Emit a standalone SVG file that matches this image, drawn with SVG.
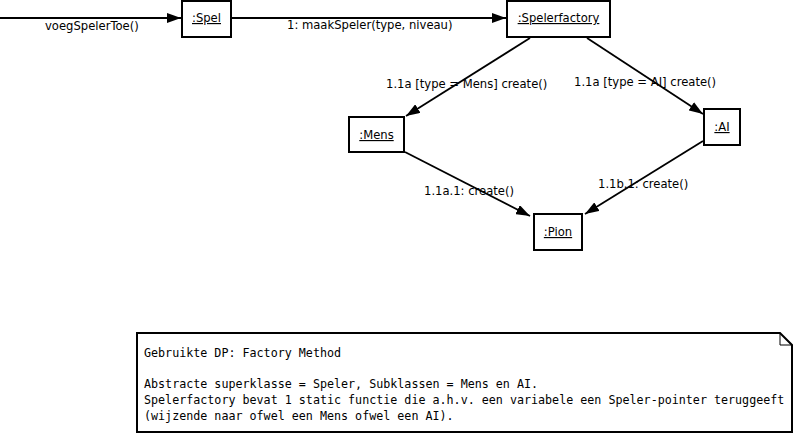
<svg xmlns="http://www.w3.org/2000/svg" width="795" height="435" viewBox="0 0 795 435">
<defs>
<marker id="arr" viewBox="0 0 14 10" refX="14" refY="5" markerWidth="14" markerHeight="10" markerUnits="userSpaceOnUse" orient="auto">
<path d="M0,0 L14,5 L0,10 Z" fill="#000"/>
</marker>
<style>
.box{fill:#fff;stroke:#000;stroke-width:2}
.lbl{font-family:"DejaVu Sans",sans-serif;font-size:11.6px;fill:#000}
.name{font-family:"DejaVu Sans",sans-serif;font-size:11.6px;fill:#000;text-anchor:middle;text-decoration:underline}
.edge{stroke:#000;stroke-width:1.8;fill:none;marker-end:url(#arr)}
.mono{font-family:"DejaVu Sans Mono",monospace;font-size:11.7px;fill:#000}
</style>
</defs>
<rect width="795" height="435" fill="#fff"/>
<g id="connectors">
<line class="edge" x1="0" y1="18" x2="181" y2="18"/>
<line class="edge" x1="232" y1="18" x2="506" y2="18"/>
<line class="edge" x1="530" y1="38" x2="406" y2="116"/>
<line class="edge" x1="587" y1="38" x2="703" y2="114"/>
<line class="edge" x1="405" y1="152" x2="530" y2="216"/>
<line class="edge" x1="703" y1="141" x2="585" y2="214"/>
<text class="lbl" x="45" y="30">voegSpelerToe()</text>
<text class="lbl" x="287" y="29">1: maakSpeler(type, niveau)</text>
<text class="lbl" x="386" y="88">1.1a [type = Mens] create()</text>
<text class="lbl" x="574" y="86">1.1a [type = AI] create()</text>
<text class="lbl" x="424" y="195">1.1a.1: create()</text>
<text class="lbl" x="598" y="188">1.1b.1: create()</text>
</g>
<g id="spel"><rect class="box" x="182" y="1" width="49" height="36"/><text class="name" x="206.5" y="22">:Spel</text></g>
<g id="spelerfactory"><rect class="box" x="507" y="1" width="103" height="36"/><text class="name" x="558.5" y="22">:Spelerfactory</text></g>
<g id="mens"><rect class="box" x="349" y="117" width="55" height="35"/><text class="name" x="376.5" y="139">:Mens</text></g>
<g id="ai"><rect class="box" x="704" y="109" width="36" height="36"/><text class="name" x="722" y="131">:AI</text></g>
<g id="pion"><rect class="box" x="534" y="214" width="48" height="36"/><text class="name" x="558" y="236">:Pion</text></g>
<g id="note">
<path d="M137,333 L780,333 L792,345 L792,432 L137,432 Z" fill="#fff" stroke="#000" stroke-width="2"/>
<path d="M780,333 L780,345 L792,345" fill="none" stroke="#000" stroke-width="1"/>
<text class="mono" x="144" y="357">Gebruikte DP: Factory Method</text>
<text class="mono" x="144" y="388">Abstracte superklasse = Speler, Subklassen = Mens en AI.</text>
<text class="mono" x="144" y="404">Spelerfactory bevat 1 static functie die a.h.v. een variabele een Speler-pointer teruggeeft</text>
<text class="mono" x="144" y="420">(wijzende naar ofwel een Mens ofwel een AI).</text>
</g>
</svg>
